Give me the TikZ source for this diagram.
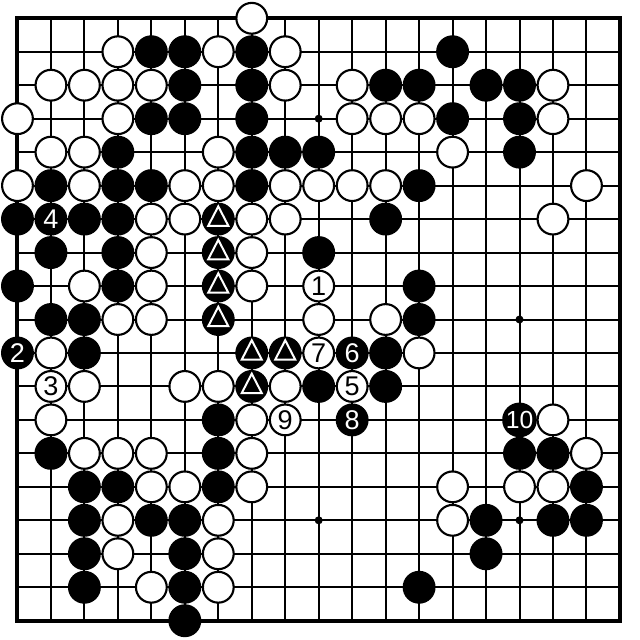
\documentclass[tikz,border=0pt]{standalone}
\usepackage{fontspec}
\setmainfont{Liberation Sans}
\usetikzlibrary{calc}
\tikzset{
  blackstone/.style={fill=black, draw=black, line width=1.8pt},
  whitestone/.style={fill=white, draw=black, line width=1.8pt},
  numstone/.style={circle, inner sep=0pt, minimum size=0.92cm,
    font=\fontsize{23}{23}\selectfont},
  markline/.style={draw=white, line width=1.7pt, line join=miter},
}

\begin{document}
\begin{tikzpicture}[x=1cm,y=-1cm]
    \useasboundingbox (-0.522,-0.546) rectangle (18.58,18.576);
    \fill[white] (-0.522,-0.546) rectangle (18.58,18.576);
    %% Board lines
    \foreach \i in {1,...,17}
    {
    \draw[line width=1.7pt]
    (\i,0) to (\i,18)
    (0,\i) to (18,\i)
    ;
    }
    \draw[line width=3.4pt] (0,0) rectangle (18,18);
    %% Star points
    \foreach \x in {3,9,15}
    \foreach \y in {3,9,15}
    {
    \fill (\x,\y) circle (0.12);
    }
    %% Black stones
    \foreach \x/\y in {4/1,5/1,7/1,13/1,
        5/2,7/2,11/2,12/2,14/2,15/2,
        4/3,5/3,7/3,13/3,15/3,
        3/4,7/4,8/4,9/4,15/4,
        1/5,3/5,4/5,7/5,12/5,
        0/6,2/6,3/6,6/6,11/6,
        1/7,3/7,6/7,9/7,
        0/8,3/8,6/8,12/8,
        1/9,2/9,6/9,12/9,
        2/10,7/10,8/10,11/10,
        7/11,9/11,11/11,
        6/12,
        1/13,6/13,15/13,16/13,
        2/14,3/14,6/14,17/14,
        2/15,4/15,5/15,14/15,16/15,17/15,
        2/16,5/16,14/16,
        2/17,5/17,12/17,
        5/18}
    {
    \draw[blackstone] (\x,\y) circle (0.46);
    }
    %% White stones
    \foreach \x/\y in {7/0,
        3/1,6/1,8/1,
        1/2,2/2,3/2,4/2,8/2,10/2,16/2,
        0/3,3/3,10/3,11/3,12/3,16/3,
        1/4,2/4,6/4,13/4,
        0/5,2/5,5/5,6/5,8/5,9/5,10/5,11/5,17/5,
        4/6,5/6,7/6,8/6,16/6,
        4/7,7/7,
        2/8,4/8,7/8,
        3/9,4/9,9/9,11/9,
        1/10,12/10,
        2/11,5/11,6/11,8/11,
        1/12,7/12,16/12,
        2/13,3/13,4/13,7/13,17/13,
        4/14,5/14,7/14,13/14,15/14,16/14,
        3/15,6/15,13/15,
        3/16,6/16,
        4/17,6/17}
    {
    \draw[whitestone] (\x,\y) circle (0.46);
    }
    %% Triangle marks
    \foreach \x/\y in {6/6,6/7,6/8,6/9,7/10,8/10,7/11}
    {
    \draw[markline]
    (\x,\y-0.38) to (\x+0.3,\y+0.2) to (\x-0.3,\y+0.2) -- cycle
    ;
    }
    %% Numbered moves
    \node[numstone, whitestone] (m1) at (9,8) {1};
    \node[numstone, blackstone, text=white] (m2) at (0,10) {2};
    \node[numstone, whitestone] (m3) at (1,11) {3};
    \node[numstone, blackstone, text=white] (m4) at (1,6) {4};
    \node[numstone, whitestone] (m5) at (10,11) {5};
    \node[numstone, blackstone, text=white] (m6) at (10,10) {6};
    \node[numstone, whitestone] (m7) at (9,10) {7};
    \node[numstone, blackstone, text=white] (m8) at (10,12) {8};
    \node[numstone, whitestone] (m9) at (8,12) {9};
    \node[numstone, blackstone, text=white,
      font=\fontsize{21}{21}\selectfont] (m10) at (15,12) {10};
\end{tikzpicture}
\end{document}
